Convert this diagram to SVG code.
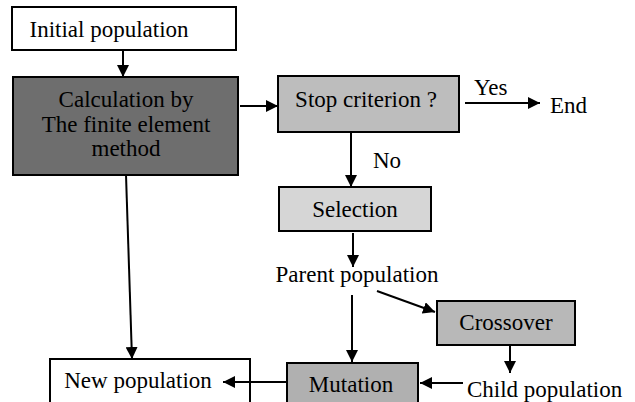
<svg xmlns="http://www.w3.org/2000/svg" width="635" height="402" viewBox="0 0 635 402">
<style>
text{font-family:"Liberation Serif","Times New Roman",serif;font-size:23px;fill:#000}
.box{stroke:#000;stroke-width:2}
.c{text-anchor:middle}
.ln{stroke:#000;stroke-width:2;fill:none;marker-end:url(#ah)}
</style>
<defs>
<marker id="ah" viewBox="0 0 10 10" refX="10" refY="5" markerWidth="6" markerHeight="6" markerUnits="strokeWidth" orient="auto">
<path d="M0,0 L10,5 L0,10 z" fill="#000"/>
</marker>
</defs>
<rect width="635" height="402" fill="#fff"/>
<g id="initial"><rect class="box" x="12" y="7" width="224" height="43" fill="#fff"/><text class="c" x="109" y="37">Initial population</text></g>
<g id="calc"><rect class="box" x="13" y="77" width="225" height="98" fill="#6e6e6e"/><text class="c" x="126" y="107">Calculation by</text><text class="c" x="126" y="132">The finite element</text><text class="c" x="126" y="156">method</text></g>
<g id="stop"><rect class="box" x="278" y="76" width="181" height="56" fill="#bdbdbd"/><text class="c" x="366" y="107">Stop criterion ?</text></g>
<g id="yes"><text x="474" y="95">Yes</text></g>
<g id="end"><text x="550" y="113">End</text></g>
<g id="no"><text x="373" y="168">No</text></g>
<g id="selection"><rect class="box" x="279" y="187" width="152" height="44" fill="#d6d6d6"/><text class="c" x="355" y="217">Selection</text></g>
<g id="parent"><text class="c" x="357" y="282">Parent population</text></g>
<g id="crossover"><rect class="box" x="437" y="301" width="138" height="44" fill="#b8b8b8"/><text class="c" x="506" y="330">Crossover</text></g>
<g id="child"><text x="467" y="397">Child population</text></g>
<g id="mutation"><rect class="box" x="287" y="363" width="131" height="44" fill="#b0b0b0"/><text class="c" x="351" y="392">Mutation</text></g>
<g id="newpop"><rect class="box" x="50" y="359" width="200" height="48" fill="#fff"/><text class="c" x="138" y="388">New population</text></g>
<g id="connectors">
<line class="ln" x1="123" y1="50" x2="123" y2="77"/>
<line class="ln" x1="240" y1="106" x2="278" y2="106"/>
<line class="ln" x1="465" y1="103" x2="540" y2="103"/>
<line class="ln" x1="351" y1="132" x2="351" y2="187"/>
<line class="ln" x1="353" y1="233" x2="353" y2="267"/>
<line class="ln" x1="352" y1="295" x2="352" y2="362"/>
<line class="ln" x1="377" y1="291" x2="435" y2="312"/>
<line class="ln" x1="510" y1="345" x2="510" y2="373"/>
<line class="ln" x1="463" y1="383" x2="420" y2="383"/>
<line class="ln" x1="287" y1="382" x2="223" y2="382"/>
<line class="ln" x1="126" y1="175" x2="132" y2="359"/>
</g>
</svg>
